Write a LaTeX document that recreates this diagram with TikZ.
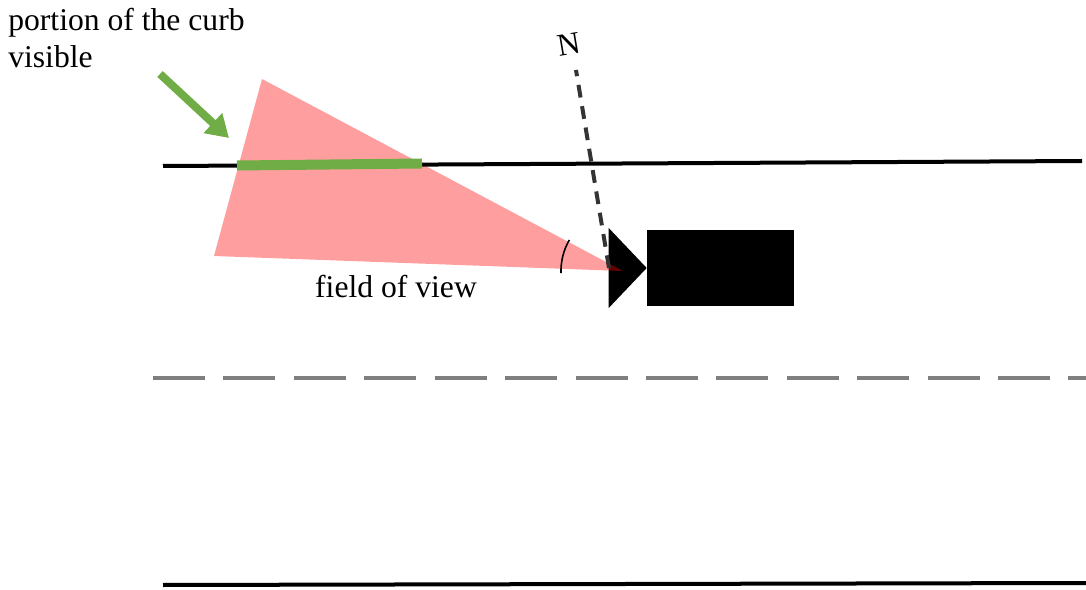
\documentclass[tikz,border=0pt]{standalone}
\usepackage{fontspec}
\setmainfont{Liberation Serif}
\usetikzlibrary{arrows.meta,positioning}
\definecolor{curbgreen}{RGB}{112,173,71}
\definecolor{lanegray}{RGB}{127,127,127}
\definecolor{northgray}{RGB}{52,52,52}

\begin{document}
\begin{tikzpicture}[
  x=0.025cm, y=0.025cm,
  curb/.style={line width=0.1cm, black},
  lane/.style={line width=0.1cm, lanegray, dash pattern=on 1.3cm off 0.46cm},
  fov/.style={fill=red, fill opacity=0.38},
  visible/.style={line width=0.25cm, curbgreen},
  arrow/.style={line width=0.2cm, curbgreen, -{Triangle[length=0.55cm,width=0.65cm]}},
  north/.style={line width=0.1cm, northgray, dash pattern=on 0.32cm off 0.22cm},
  label/.style={font=\fontsize{22.5pt}{26.5pt}\selectfont, inner sep=0pt, align=left}
]
\useasboundingbox (0,0) rectangle (1086,-590);

% camera
\node[fill=black, minimum width=3.675cm, minimum height=1.9cm, inner sep=0pt] (body) at (720.5,-268) {};
\fill (body.west) -- ++(-38,40) -- ++(0,-80) -- cycle;
\coordinate (cam) at (609,-268);

% field of view
\coordinate (apex) at (623,-271);
\coordinate (fovA) at (262,-79);
\coordinate (fovB) at (214,-256);
\fill[fov] (apex) -- (fovA) -- (fovB) -- cycle;
\draw[line width=0.04cm] (apex) ++(150:1.55cm) arc[start angle=150, end angle=182, radius=1.55cm];

% road
\coordinate (curbL) at (163,-166);
\coordinate (curbR) at (1082,-161);
\draw[curb] (curbL) -- (curbR);
\coordinate (laneL) at (153,-378);
\coordinate (laneR) at (1086,-378);
\draw[lane] (laneL) -- (laneR);
\coordinate (edgeL) at (163,-585);
\coordinate (edgeR) at (1086,-583);
\draw[curb] (edgeL) -- (edgeR);

% visible part of the curb
\coordinate (seenL) at (237,-165.5);
\coordinate (seenR) at (422,-163.5);
\draw[visible] (seenL) -- (seenR);
\coordinate (hint) at (160,-74);
\coordinate (hintTip) at (229,-138);
\draw[arrow] (hint) -- (hintTip);

% north
\coordinate (Ntail) at (576,-70);
\draw[north] (cam) -- (Ntail);
\node[label, rotate=9.5] (N) at (569,-44) {N};

% labels
\node[label, anchor=north west] (curbtext) at (8,-8) {portion of the curb\\visible};
\node[label, anchor=base] (fovtext) at (396,-298) {field of view};
\end{tikzpicture}
\end{document}
